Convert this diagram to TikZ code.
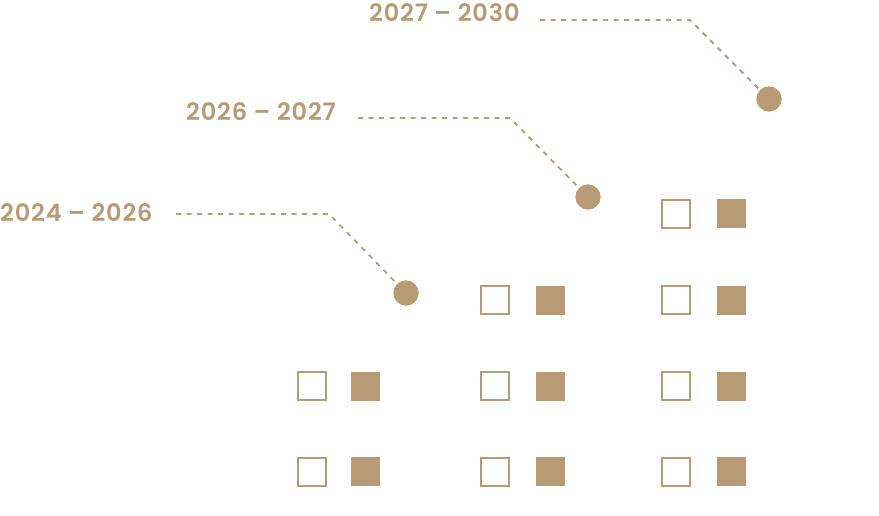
\documentclass[tikz,border=0pt]{standalone}
\usepackage{fontspec}
\newfontfamily\labfont{Poppins}[UprightFont=* Medium,BoldFont=* SemiBold,LetterSpace=3.5]
\definecolor{gold}{RGB}{184,154,116}
\begin{document}
\begin{tikzpicture}[x=1pt,y=-1pt,
  lab/.style={anchor=base west,inner sep=0pt,text=gold,font=\labfont\bfseries\fontsize{24}{26}\selectfont},
  dot/.style={circle,fill=gold,minimum size=25pt,inner sep=0pt},
  conn/.style={draw=gold,line width=1.8pt,dash pattern=on 5pt off 5.5pt},
  obox/.style={draw=gold,line width=2pt,minimum size=28pt,inner sep=0pt,fill=white},
  fbox/.style={fill=gold,minimum size=29pt,inner sep=0pt}]
\useasboundingbox (0,0) rectangle (879,516);
% labels
\node[lab] (t1) at (0,222) {2024 – 2026};
\node[lab] (t2) at (186,121) {2026 – 2027};
\node[lab] (t3) at (369,22) {2027 – 2030};
% dots
\node[dot] (c1) at (406,293) {};
\node[dot] (c2) at (588,197) {};
\node[dot] (c3) at (769,99) {};
% bends
\coordinate (s1) at (176,214); \coordinate (b1) at (329,214);
\coordinate (s2) at (358,118); \coordinate (b2) at (510,118);
\coordinate (s3) at (540,20);  \coordinate (b3) at (690,20);
\draw[conn] (s1) -- (b1) -- (c1.center);
\draw[conn] (s2) -- (b2) -- (c2.center);
\draw[conn] (s3) -- (b3) -- (c3.center);
\node[dot] at (c1) {};
\node[dot] at (c2) {};
\node[dot] at (c3) {};
% squares
\node[obox] (o13) at (312,386) {}; \node[fbox] (f13) at (365.5,386) {};
\node[obox] (o14) at (312,471.5) {}; \node[fbox] (f14) at (365.5,471.5) {};
\node[obox] (o22) at (495,300) {}; \node[fbox] (f22) at (550,300) {};
\node[obox] (o23) at (495,386) {}; \node[fbox] (f23) at (550,386) {};
\node[obox] (o24) at (495,471.5) {}; \node[fbox] (f24) at (550,471.5) {};
\node[obox] (o31) at (676,214) {}; \node[fbox] (f31) at (731,214) {};
\node[obox] (o32) at (676,300) {}; \node[fbox] (f32) at (731,300) {};
\node[obox] (o33) at (676,386) {}; \node[fbox] (f33) at (731,386) {};
\node[obox] (o34) at (676,471.5) {}; \node[fbox] (f34) at (731,471.5) {};
\end{tikzpicture}
\end{document}
